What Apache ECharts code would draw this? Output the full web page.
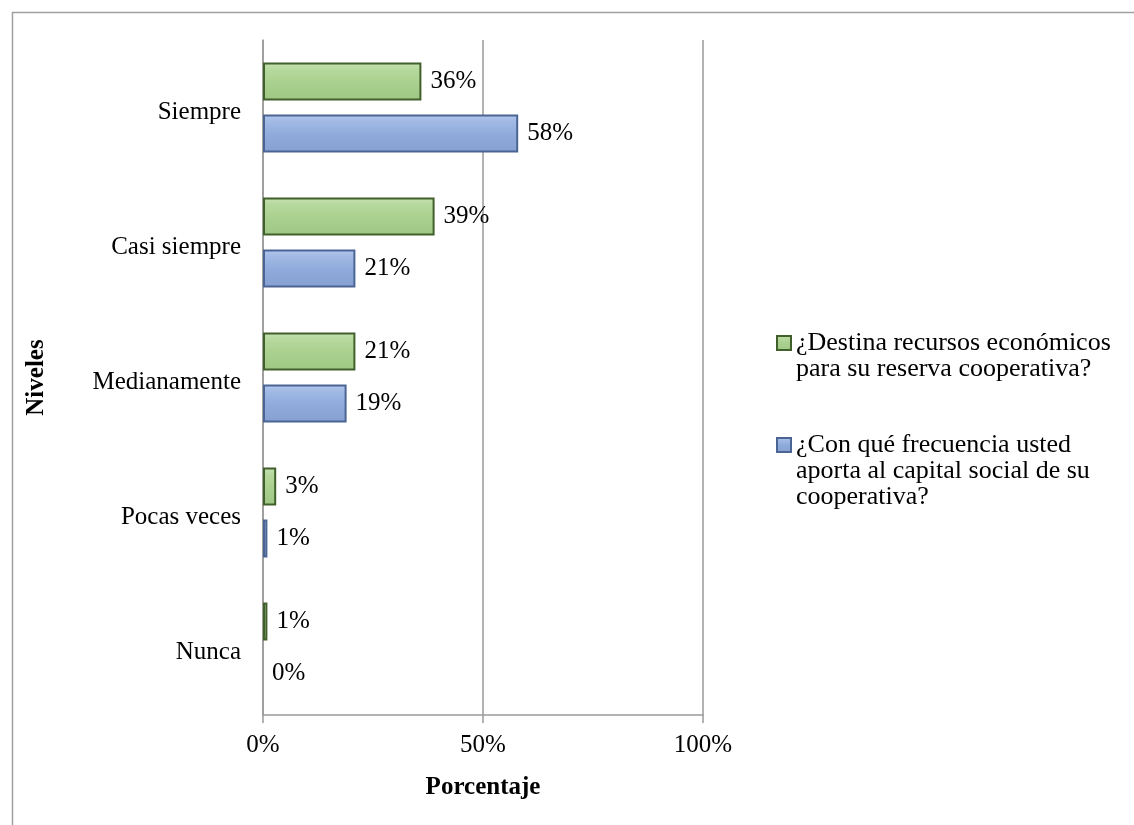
<!DOCTYPE html>
<html lang="es">
<head>
    <meta charset="UTF-8">
    <title>Niveles</title>
    <style>
        html, body { margin: 0; padding: 0; background: #fff; }
        #box { width: 1134px; height: 825px; }
    </style>
</head>
<body>
    <div id="box"></div>
    <script src="https://cdn.jsdelivr.net/npm/echarts@6/dist/echarts.min.js"></script>
    <script>
        // datos
        var categorias = ["Siempre", "Casi siempre", "Medianamente", "Pocas veces", "Nunca"];
        var serieReserva = [36, 39, 21, 3, 1];
        var serieCapital = [58, 21, 19, 1, 0];
        var nombreReserva = "¿Destina recursos económicos\npara su reserva cooperativa?";
        var nombreCapital = "¿Con qué frecuencia usted\naporta al capital social de su\ncooperativa?";
        var ticksX = [0, 50, 100];

        var fuente = "'Liberation Serif', 'Times New Roman', serif";

        function gradiente(c0, c1, c2, c3) {
            return new echarts.graphic.LinearGradient(0, 0, 0, 1, [
                { offset: 0, color: c0 },
                { offset: 0.18, color: c1 },
                { offset: 0.55, color: c2 },
                { offset: 1, color: c3 }
            ]);
        }

        function armarDatos(valores) {
            return valores.map(function (v) {
                return v === 0 ? { value: v, itemStyle: { borderWidth: 0 } } : v;
            });
        }

        // el icono va alineado con la primera linea: se anteponen lineas vacias
        function alinearPrimera(nombre) {
            var n = nombre.split("\n").length;
            var vacias = "";
            for (var i = 1; i < n; i++) vacias += "\n";
            return vacias + nombre;
        }

        var etiqueta = {
            show: true,
            position: "right",
            distance: 9,
            formatter: "{c}%",
            color: "#000",
            fontFamily: fuente,
            fontSize: 25
        };

        var estiloLeyenda = { color: "#000", fontFamily: fuente, fontSize: 26, lineHeight: 26 };

        var box = echarts.init(document.getElementById("box"));
        var option = {
            backgroundColor: "#fff",
            animation: false,
            textStyle: { fontFamily: fuente },
            graphic: [{
                type: "rect",
                left: 10,
                top: 10,
                shape: { width: 1300, height: 1000 },
                style: { fill: "none", stroke: "#a0a0a0", lineWidth: 1.5 }
            }],
            legend: [{
                data: [nombreReserva],
                orient: "vertical",
                icon: "rect",
                left: 776,
                top: 304,
                padding: 0,
                itemWidth: 14,
                itemHeight: 14,
                formatter: alinearPrimera,
                textStyle: estiloLeyenda
            }, {
                data: [nombreCapital],
                orient: "vertical",
                icon: "rect",
                left: 776,
                top: 380,
                padding: 0,
                itemWidth: 14,
                itemHeight: 14,
                formatter: alinearPrimera,
                textStyle: estiloLeyenda
            }],
            grid: {
                left: 263,
                right: 431,
                top: 40,
                bottom: 110
            },
            xAxis: {
                type: "value",
                min: 0,
                max: 100,
                interval: 50,
                name: "Porcentaje",
                nameLocation: "middle",
                nameGap: 60,
                nameTextStyle: { color: "#000", fontFamily: fuente, fontSize: 25, fontWeight: "bold" },
                axisLine: { show: true, lineStyle: { color: "#9a9a9a", width: 1.5 } },
                axisTick: { show: true, length: 8, lineStyle: { color: "#9a9a9a", width: 1.5 } },
                axisLabel: {
                    color: "#000",
                    fontFamily: fuente,
                    fontSize: 25,
                    margin: 18,
                    formatter: function (v) { return ticksX.indexOf(v) >= 0 ? v + "%" : ""; }
                },
                splitLine: { show: true, lineStyle: { color: "#9a9a9a", width: 1.5 } }
            },
            yAxis: {
                type: "category",
                inverse: true,
                data: categorias,
                name: "Niveles",
                nameLocation: "middle",
                nameRotate: 90,
                nameGap: 214,
                nameTextStyle: { color: "#000", fontFamily: fuente, fontSize: 25, fontWeight: "bold" },
                axisLine: { show: true, lineStyle: { color: "#9a9a9a", width: 1.5 } },
                axisTick: { show: false },
                axisLabel: {
                    color: "#000",
                    fontFamily: fuente,
                    fontSize: 25,
                    margin: 22,
                    formatter: function (v) { return "{c|" + v + "}"; },
                    rich: { c: { fontFamily: fuente, fontSize: 25, color: "#000", padding: [10, 0, 0, 0] } }
                },
                splitLine: { show: false }
            },
            series: [{
                name: nombreReserva,
                type: "bar",
                barWidth: 38,
                barGap: "37%",
                data: armarDatos(serieReserva),
                label: etiqueta,
                itemStyle: {
                    color: gradiente("#c6e2b2", "#b6d99e", "#a9d08e", "#9fc784"),
                    borderColor: "#405f2a",
                    borderWidth: 2
                }
            }, {
                name: nombreCapital,
                type: "bar",
                barWidth: 38,
                barGap: "37%",
                data: armarDatos(serieCapital),
                label: etiqueta,
                itemStyle: {
                    color: gradiente("#b3c8ed", "#a1b9e4", "#8eaadb", "#85a0d1"),
                    borderColor: "#4a6593",
                    borderWidth: 2
                }
            }]
        };
        box.setOption(option);
    </script>
</body>
</html>
